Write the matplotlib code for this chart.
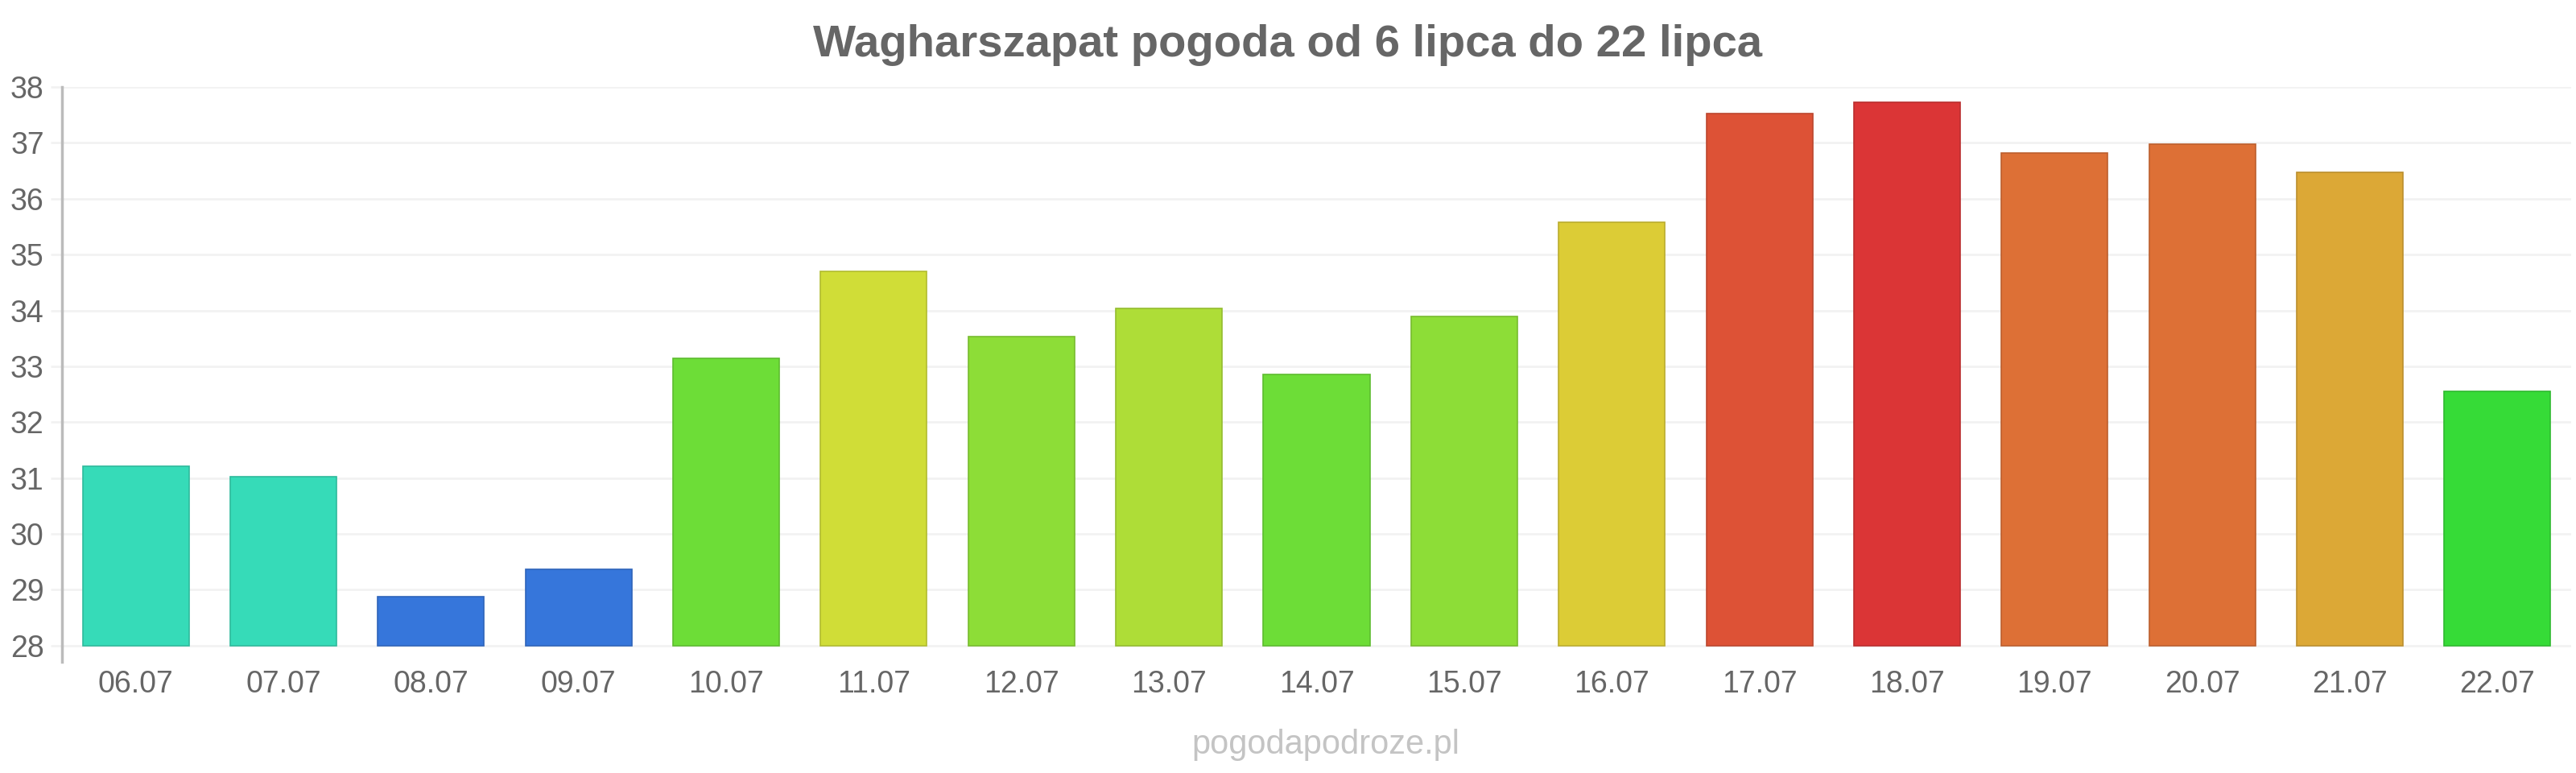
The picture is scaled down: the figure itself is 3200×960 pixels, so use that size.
import matplotlib
matplotlib.use("Agg")
import matplotlib.pyplot as plt
import matplotlib.colors as mcolors

categories = ["06.07", "07.07", "08.07", "09.07", "10.07", "11.07", "12.07", "13.07",
              "14.07", "15.07", "16.07", "17.07", "18.07", "19.07", "20.07", "21.07", "22.07"]
temps = [31.21, 31.03, 28.88, 29.37, 33.15, 34.70, 33.53, 34.03,
         32.85, 33.89, 35.58, 37.53, 37.73, 36.82, 36.98, 36.47, 32.55]
bar_colors = ["#36dbb8", "#36dbb8", "#3676db", "#3676db", "#6ddd37", "#d0dd37", "#8ddd37", "#aedd37",
              "#6ddd37", "#8ddd37", "#dccc36", "#dd5236", "#db3536", "#dd7036", "#dd7036", "#dca836", "#36db37"]
yticks = list(range(28, 39))
title = "Wagharszapat pogoda od 6 lipca do 22 lipca"
watermark = "pogodapodroze.pl"

plt.rcParams['font.family'] = ['Liberation Sans', 'DejaVu Sans']

W, H = 3200, 960
fig = plt.figure(figsize=(W / 100, H / 100), dpi=100)
left, right, top, bottom = 77, 3194, 108, 822
ax = fig.add_axes([left / W, 1 - bottom / H, (right - left) / W, (bottom - top) / H])

def darker(c, f=0.85):
    r, g, b = mcolors.to_rgb(c)
    return (r * f, g * f, b * f)

base = 28
x = list(range(len(categories)))
heights = [t - base for t in temps]
ax.bar(x, heights, bottom=base, width=0.72, color=bar_colors,
       edgecolor=[darker(c) for c in bar_colors], linewidth=1.2, zorder=3)

ax.set_xlim(-0.5, len(categories) - 0.5)
ax.set_ylim(27.71, 38)
ax.set_yticks(yticks)
ax.set_yticklabels([str(v) for v in yticks])
ax.set_xticks(x)
ax.set_xticklabels(categories)

ax.grid(axis='y', color='#f2f2f2', linewidth=2, zorder=0)
ax.grid(axis='x', visible=False)
for s in ['top', 'right', 'bottom']:
    ax.spines[s].set_visible(False)
ax.spines['left'].set_color('#bbbbbb')
ax.spines['left'].set_linewidth(2.5)

ax.tick_params(axis='y', length=10, width=2, color='#f2f2f2', labelsize=27, labelcolor='#666666', pad=6)
ax.tick_params(axis='x', length=0, labelsize=27, labelcolor='#666666', pad=7)

fig.text(0.5, 1 - 56 / H, title, ha='center', va='center', fontsize=40.5,
         fontweight='bold', color='#666666')
fig.text(1647 / W, 1 - 925 / H, watermark, ha='center', va='center', fontsize=30,
         color='#c4c4c4')

fig.savefig("out.png", dpi=100, facecolor='white')
